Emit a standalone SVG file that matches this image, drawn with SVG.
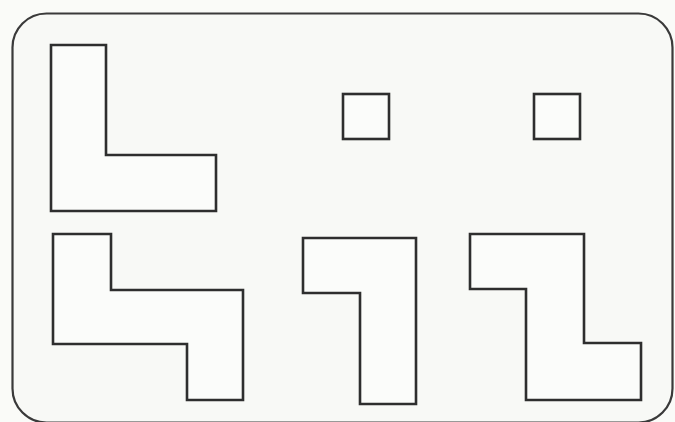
<svg xmlns="http://www.w3.org/2000/svg" width="675" height="422" viewBox="0 0 675 422">
<style>
.shape{fill:#fbfcfa;stroke:#2e2e2e;stroke-width:2.6;stroke-linejoin:miter}
.frame{fill:#f8f9f6;stroke:#3a3a3a;stroke-width:2.2}
</style>
<rect x="0" y="0" width="675" height="422" fill="#fafbf8"/>
<rect class="frame" x="12.5" y="13.5" width="660" height="409" rx="34" ry="34"/>
<g id="shape-L">
<polygon class="shape" points="51,45 106,45 106,155 216,155 216,211 51,211"/>
</g>
<g id="square-1">
<rect class="shape" x="343" y="94" width="46" height="45"/>
</g>
<g id="square-2">
<rect class="shape" x="534" y="94" width="46" height="45"/>
</g>
<g id="shape-S1">
<polygon class="shape" points="53,234 111,234 111,290 243,290 243,400 187,400 187,344 53,344"/>
</g>
<g id="shape-7">
<polygon class="shape" points="303,238 416,238 416,404 360,404 360,293 303,293"/>
</g>
<g id="shape-Z">
<polygon class="shape" points="470,234 584,234 584,343 641,343 641,400 526,400 526,289 470,289"/>
</g>
</svg>
